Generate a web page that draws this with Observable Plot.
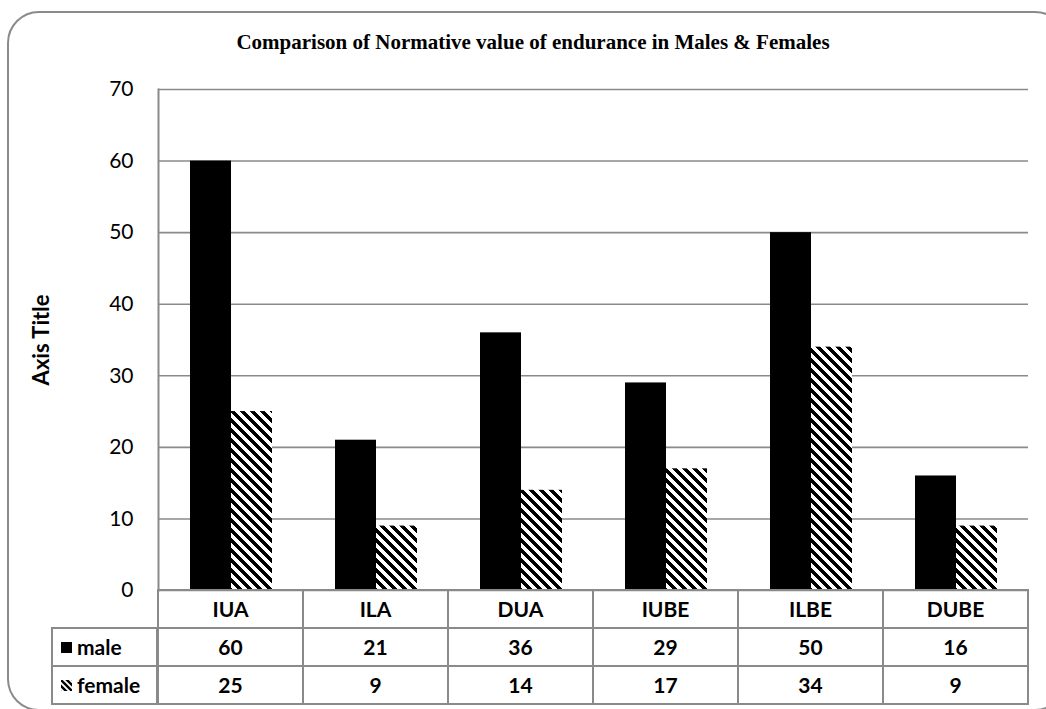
<!DOCTYPE html>
<html>
<head>
<meta charset="utf-8">
<script src="https://cdn.jsdelivr.net/npm/d3@7"></script>
<script src="https://cdn.jsdelivr.net/npm/@observablehq/plot@0.6"></script>
<style>
  html, body { margin: 0; padding: 0; background: #fff; }
  body { width: 1046px; height: 709px; position: relative; overflow: hidden; font-family: Lato, sans-serif; }
  #frame { position: absolute; left: 7px; top: 11px; width: 1060px; height: 700px; border: 2px solid #8a8a8a; border-radius: 32px; box-sizing: border-box; }
  #title { position: absolute; left: 0; width: 1066px; top: 30px; text-align: center; font-family: "Liberation Serif", "Times New Roman", serif; font-weight: bold; font-size: 21px; line-height: 24px; color: #000; }
  #ytitle { position: absolute; left: 40px; top: 340px; transform: translate(-50%, -50%) rotate(-90deg); font-family: Lato, sans-serif; font-weight: bold; font-size: 22px; white-space: nowrap; color: #000; }
  #chart { position: absolute; left: 0; top: 0; }
  .cell { position: absolute; box-sizing: border-box; border: 2px solid #8a8a8a; font-family: Lato, sans-serif; font-weight: bold; font-size: 21px; color: #000; text-align: center; background: transparent; }
  .cell.head { text-align: left; padding-left: 8px; }
  .key { display: inline-block; vertical-align: middle; margin-right: 5px; position: relative; top: -2px; }
</style>
</head>
<body>
<div id="frame"></div>
<div id="title">Comparison of Normative value of endurance in Males &amp; Females</div>
<div id="ytitle">Axis Title</div>
<div id="chart"></div>
<div id="table"></div>
<script>
const categories = ["IUA", "ILA", "DUA", "IUBE", "ILBE", "DUBE"];
const series = ["male", "female"];
const maleValues = [60, 21, 36, 29, 50, 16];
const femaleValues = [25, 9, 14, 17, 34, 9];
const yTicks = [0, 10, 20, 30, 40, 50, 60, 70];

const rows = categories.flatMap((c, i) => [
  {cat: c, series: "male", value: maleValues[i]},
  {cat: c, series: "female", value: femaleValues[i]}
]);

const W = 1046, H = 600, mL = 157, mR = 17, mT = 89, mB = 10;

const chart = Plot.plot({
  width: W,
  height: H,
  marginLeft: mL,
  marginRight: mR,
  marginTop: mT,
  marginBottom: mB,
  style: {fontFamily: "Lato, sans-serif", fontSize: "21px", color: "#000", background: "transparent"},
  fx: {domain: categories, padding: 0, axis: null},
  x: {domain: series, paddingInner: 0, paddingOuter: 0.73, axis: null},
  y: {domain: [0, 70], axis: null},
  color: {domain: series, range: ["#000000", "url(#hatch)"]},
  marks: [
    Plot.gridY(yTicks, {stroke: "#8a8a8a", strokeOpacity: 1, strokeWidth: 1.6}),
    Plot.barY(rows, {fx: "cat", x: "series", y: "value", fill: "series"}),
    Plot.frame({anchor: "left", facetAnchor: "left", stroke: "#8a8a8a", strokeWidth: 2}),
    Plot.axisY(yTicks, {tickSize: 0, tickPadding: 25, label: null, fontSize: 21, fill: "#000"})
  ]
});

const defs = document.createElementNS("http://www.w3.org/2000/svg", "defs");
defs.innerHTML = '<pattern id="hatch" patternUnits="userSpaceOnUse" width="10" height="10">' +
  '<rect width="10" height="10" fill="#fff"/>' +
  '<path d="M-2,-2L12,12M-7,3L7,17M3,-7L17,7" stroke="#000" stroke-width="3.8" shape-rendering="crispEdges"/></pattern>';
chart.insertBefore(defs, chart.firstChild);
document.getElementById("chart").appendChild(chart);

// data table aligned to the library's fx scale
const fx = chart.scale("fx");
const bw = fx.bandwidth;
const table = document.getElementById("table");
const rowTop = [590, 628, 666];
const rowH = 37.7;
const firstLeft = 52;

function cell(x, y, w, h, html, cls) {
  const d = document.createElement("div");
  d.className = "cell" + (cls ? " " + cls : "");
  d.style.left = (x - 1) + "px";
  d.style.top = (y - 1) + "px";
  d.style.width = (w + 2) + "px";
  d.style.height = (h + 2) + "px";
  d.style.lineHeight = (h - 2) + "px";
  d.innerHTML = html;
  table.appendChild(d);
}

const keyMale = '<svg class="key" width="11" height="11"><rect width="11" height="11" fill="#000"/></svg>';
const keyFemale = '<svg class="key" width="11" height="11"><defs><pattern id="hk" patternUnits="userSpaceOnUse" width="6" height="6"><rect width="6" height="6" fill="#fff"/><path d="M-1,-1L7,7M-4,2L2,8M2,-4L8,2" stroke="#000" stroke-width="2.4"/></pattern></defs><rect width="11" height="11" fill="url(#hk)"/></svg>';

const rowData = [
  {head: "", values: categories},
  {head: keyMale + "male", values: maleValues},
  {head: keyFemale + "female", values: femaleValues}
];

rowData.forEach((r, ri) => {
  const y = rowTop[ri];
  if (ri > 0) cell(firstLeft, y, mL - firstLeft, rowH, r.head, "head");
  categories.forEach((c, ci) => {
    const x = fx.apply(c);
    cell(x, y, bw, rowH, String(r.values[ci]));
  });
});
</script>
</body>
</html>
